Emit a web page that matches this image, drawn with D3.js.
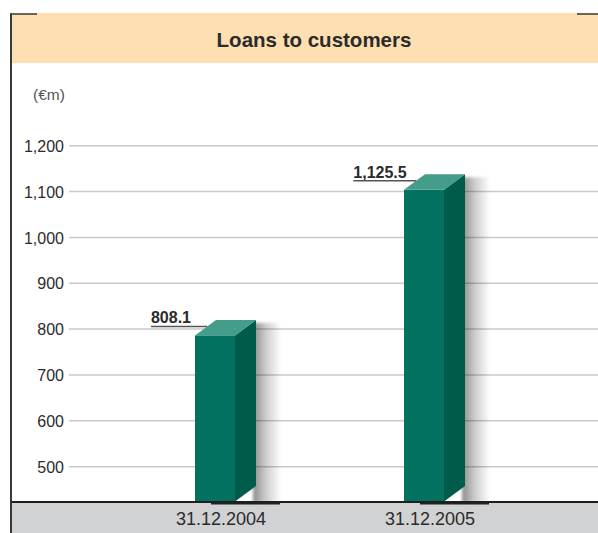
<!DOCTYPE html>
<html>
<head>
<meta charset="utf-8">
<script src="https://cdn.jsdelivr.net/npm/d3@7/dist/d3.min.js"></script>
<style>
  html, body { margin: 0; padding: 0; background: #fff; }
  svg { display: block; }
  text { font-family: "Liberation Sans Narrow", "Arial Narrow", "Liberation Sans", sans-serif; }
</style>
</head>
<body>
<svg id="chart" width="598" height="533"></svg>
<script>
// Chart data
const categories = ["31.12.2004", "31.12.2005"];
const values = [808.1, 1125.5];
const valueLabels = ["808.1", "1,125.5"];
const yTicks = [500, 600, 700, 800, 900, 1000, 1100, 1200];
const title = "Loans to customers";
const unitLabel = "(€m)";

const W = 598, H = 533;
const svg = d3.select("#chart");

// Layout
const frameLeft = 11;
const headerTop = 13, headerBottom = 63;
const baseY = 501.5, bandTop = 503, plotTop = 145.7;
const gridX0 = 69;
const barW = 40, depthX = 21, depthY = 15.5;

const yFloor = 424;
const y = d3.scaleLinear().domain([yFloor, 1200]).range([baseY, plotTop]);
const x = d3.scalePoint().domain(categories).range([215, 424]);

const colors = {
  header: "#FDDFB2",
  band: "#D1D2D4",
  front: "#02715F",
  side: "#015B4B",
  top: "#449C8B",
  grid: "#C9C9C9",
  frame: "#3a3a3a",
  text: "#2b2b2b"
};

const defs = svg.append("defs");
const grad = defs.append("linearGradient").attr("id", "shadowGrad")
  .attr("x1", 0).attr("x2", 1).attr("y1", 0).attr("y2", 0);
grad.append("stop").attr("offset", 0).attr("stop-color", "#000").attr("stop-opacity", 0.45);
grad.append("stop").attr("offset", 0.45).attr("stop-color", "#000").attr("stop-opacity", 0.2);
grad.append("stop").attr("offset", 1).attr("stop-color", "#000").attr("stop-opacity", 0);
defs.append("filter").attr("id", "soft").attr("x", -0.5).attr("y", -0.2).attr("width", 2).attr("height", 1.4)
  .append("feGaussianBlur").attr("stdDeviation", 1.6);

// Header band and title
svg.append("rect").attr("x", frameLeft + 1).attr("y", headerTop)
  .attr("width", W - frameLeft - 1).attr("height", headerBottom - headerTop)
  .attr("fill", colors.header);
svg.append("text").attr("x", 314).attr("y", 47)
  .attr("text-anchor", "middle").attr("font-size", 20.5).attr("font-weight", "bold")
  .attr("fill", colors.text).text(title);

// Frame: left rule and short corner ticks
svg.append("line").attr("x1", frameLeft).attr("x2", frameLeft)
  .attr("y1", 13.5).attr("y2", H).attr("stroke", colors.frame).attr("stroke-width", 2);
svg.append("line").attr("x1", frameLeft - 1).attr("x2", 37)
  .attr("y1", 14).attr("y2", 14).attr("stroke", colors.frame).attr("stroke-width", 1.5);
svg.append("line").attr("x1", 577).attr("x2", W)
  .attr("y1", 14).attr("y2", 14).attr("stroke", colors.frame).attr("stroke-width", 1.5);

// Unit label
svg.append("text").attr("x", 33).attr("y", 100)
  .attr("font-size", 15.5).attr("fill", "#555").text(unitLabel);

// Gridlines
svg.append("g").selectAll("line").data(yTicks).join("line")
  .attr("x1", gridX0).attr("x2", W)
  .attr("y1", d => y(d)).attr("y2", d => y(d))
  .attr("stroke", colors.grid).attr("stroke-width", 1.5);

// Y axis labels
const yAxis = d3.axisLeft(y).tickValues(yTicks).tickFormat(d3.format(","))
  .tickSizeInner(0).tickSizeOuter(0).tickPadding(0);
const gy = svg.append("g").attr("transform", "translate(64,0)").call(yAxis);
gy.select(".domain").remove();
gy.selectAll("text").attr("font-size", 16).attr("fill", colors.text)
  .attr("font-family", "\"Liberation Sans Narrow\", \"Arial Narrow\", sans-serif")
  .attr("dy", "0.35em");

// Bottom band with x labels
svg.append("rect").attr("x", frameLeft + 1).attr("y", bandTop)
  .attr("width", W - frameLeft - 1).attr("height", H - bandTop)
  .attr("fill", colors.band);

const bars = svg.append("g").selectAll("g").data(categories.map((c, i) => ({ c, v: values[i], label: valueLabels[i] })))
  .join("g");

bars.each(function (d) {
  const g = d3.select(this);
  const x0 = x(d.c) - barW / 2, x1 = x0 + barW;
  const frontTop = y(d.v) + 10;
  const backTop = frontTop - depthY;

  // soft drop shadow to the right
  g.append("rect").attr("x", x1 + depthX - 3).attr("y", backTop + 3)
    .attr("width", 28).attr("height", baseY - backTop - 2)
    .attr("fill", "url(#shadowGrad)").attr("filter", "url(#soft)");

  // front face
  g.append("rect").attr("x", x0).attr("y", frontTop)
    .attr("width", barW).attr("height", baseY - frontTop).attr("fill", colors.front);
  // side face
  g.append("path").attr("fill", colors.side)
    .attr("d", `M${x1},${frontTop} L${x1 + depthX},${backTop} L${x1 + depthX},${baseY - depthY} L${x1},${baseY} Z`);
  // top face
  g.append("path").attr("fill", colors.top)
    .attr("d", `M${x0},${frontTop} L${x0 + depthX},${backTop} L${x1 + depthX},${backTop} L${x1},${frontTop} Z`);

  // floor shadow line
  g.append("rect").attr("x", x0 + 16).attr("y", baseY + 1)
    .attr("width", x1 + depthX + 24 - (x0 + 16)).attr("height", 2).attr("fill", "#222");

  // value label with leader to the top face
  const lx = x0 - 24;
  const ly = frontTop - 9;
  const t = g.append("text").attr("x", lx).attr("y", ly - 3)
    .attr("text-anchor", "middle").attr("font-size", 16).attr("font-weight", "bold")
    .attr("fill", colors.text).text(d.label);
  const bb = t.node().getBBox();
  const edgeX = x0 + depthX * (frontTop - ly) / depthY;
  g.append("line").attr("x1", bb.x).attr("x2", edgeX)
    .attr("y1", ly).attr("y2", ly).attr("stroke", "#555").attr("stroke-width", 1.5);

  // category label
  g.append("text").attr("x", x(d.c) + 6).attr("y", 525)
    .attr("text-anchor", "middle").attr("font-size", 18).attr("fill", colors.text)
    .text(d.c);
});

// Baseline
svg.append("line").attr("x1", frameLeft).attr("x2", W)
  .attr("y1", baseY + 0.5).attr("y2", baseY + 0.5)
  .attr("stroke", "#1e1e1e").attr("stroke-width", 2);
</script>
</body>
</html>
